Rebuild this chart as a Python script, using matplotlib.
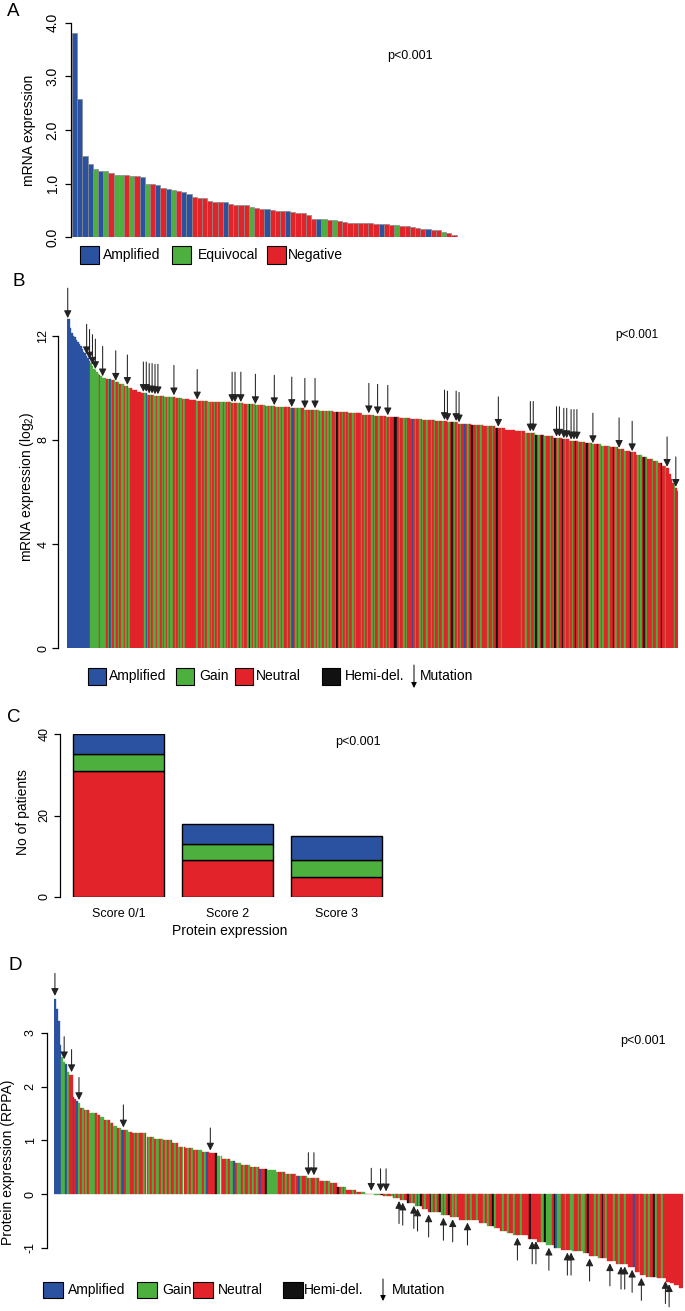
import matplotlib
matplotlib.use("Agg")
import matplotlib.pyplot as plt
from matplotlib.patches import Rectangle, FancyArrowPatch
import numpy as np

plt.rcParams['font.family'] = ['Liberation Sans', 'DejaVu Sans']
plt.rcParams['mathtext.fontset'] = 'custom'
plt.rcParams['mathtext.rm'] = 'Liberation Sans'

W, H = 685, 1311

COLORS = {'A': '#2a52a1', 'E': '#4caf3e', 'G': '#4caf3e', 'N': '#e3232a', 'H': '#111111'}

# ---- panel A : mRNA expression, ISH class
a_values = [3.80, 2.57, 1.52, 1.36, 1.28, 1.24, 1.24, 1.20, 1.17, 1.17,
            1.16, 1.15, 1.14, 1.13, 1.00, 1.00, 0.98, 0.92, 0.90, 0.88,
            0.86, 0.85, 0.80, 0.76, 0.74, 0.73, 0.67, 0.65, 0.65, 0.65,
            0.62, 0.61, 0.61, 0.61, 0.57, 0.55, 0.53, 0.53, 0.51, 0.49,
            0.49, 0.49, 0.47, 0.45, 0.45, 0.42, 0.35, 0.35, 0.34, 0.33,
            0.33, 0.30, 0.29, 0.27, 0.26, 0.26, 0.26, 0.26, 0.25, 0.24,
            0.24, 0.23, 0.22, 0.21, 0.21, 0.19, 0.17, 0.16, 0.16, 0.14,
            0.13, 0.09, 0.08, 0.05, 0.012, 0.004]
a_class = "".join("""AAAAEAENEE NENAENANAE NAANNNNNNA NNNNENNANN NANNNNNAEN
                     ENNNNNNNNA NNENNNNNAN NENNNN""".split())

# ---- panel B : mRNA log2, copy number (run-length levels)
b_levels = [12.64, 12.30, 12.10, 12.00, 11.95, 11.85, 11.78, 11.70, 11.60, 11.50,
            11.40, 11.35, 11.25, 11.15, 11.05, 10.95, 10.85, 10.75, 10.68, 10.60,
            10.55, 10.50, 10.45, 10.40, 10.34, 10.29, 10.23, 10.15, 10.07, 10.00,
            9.93, 9.86, 9.80, 9.74, 9.71, 9.67, 9.63, 9.59, 9.55, 9.51,
            9.48, 9.45, 9.41, 9.37, 9.33, 9.29, 9.26, 9.22, 9.17, 9.12,
            9.06, 9.02, 8.98, 8.94, 8.90, 8.86, 8.82, 8.78, 8.72, 8.68,
            8.63, 8.58, 8.52, 8.46, 8.40, 8.34, 8.28, 8.21, 8.14, 8.08,
            8.02, 7.97, 7.93, 7.88, 7.83, 7.78, 7.72, 7.65, 7.58, 7.52,
            7.44, 7.36, 7.28, 7.20, 7.10, 7.00, 6.92, 6.70, 6.50, 6.35,
            6.15, 6.05]
b_runs = [2, 1, 1, 1, 1, 1, 1, 1, 1, 1,
          1, 1, 1, 1, 1, 1, 1, 1, 1, 1,
          1, 1, 1, 3, 3, 3, 3, 3, 3, 3,
          3, 3, 4, 5, 7, 7, 5, 5, 5, 8,
          8, 8, 8, 8, 7, 7, 10, 10, 10, 10,
          10, 10, 8, 8, 9, 8, 8, 9, 8, 8,
          9, 8, 8, 7, 7, 7, 7, 6, 6, 6,
          5, 6, 5, 5, 6, 6, 6, 4, 4, 4,
          4, 4, 4, 3, 3, 3, 2, 1, 1, 2,
          1, 1]
b_class = "".join("""AAAAAAAAAA AAAAAAGGGG GGNGGGGNGA GNGGNGNGGN GNGNNNNNNN
                     NNNGAGNGNG GNGGNGNGNG NGGNGNGNGN GNNNNNNNNG NNGNGNGGNG
                     NGNGNGGNGN GNGNGNNGNG NGNNGHGNGN GNGNNGNGNG NGNNGNGNGN
                     NGNGNANGNG GNNGNGNGNN GNGNGNNGNG NGNNGHNGNG NGNGNNGNGN
                     NNGNGNGNNG NGNNGNNGNG NGNNNHHNGN NGNGNNNANG NNGNGNNGNN
                     GNGNNGNNGN NNGNHNGNGN GNNANGNNHN NGNNGNNNNG NNGNNHNNGN
                     NNNNNNNNNN NNGNNGNNGN NGHNGNHNGN NNGNGHNGNN HNGNNGNGNH
                     NGNNGNNHNG NGNNHNGNGN NNGNNHNGNN GNNGNNNHNG NNGNGNHNGN
                     NNGNNGNNHN NGNNNNNGNN""".split())
b_mutations = [0, 13, 15, 17, 19, 24, 33, 41, 52, 54, 56, 58, 60, 62, 73, 89,
               113, 115, 119, 129, 142, 154, 163, 170, 207, 213, 220, 259, 261,
               267, 269, 296, 318, 320, 336, 338, 341, 343, 346, 348, 350, 361,
               379, 388, 412, 418]

# ---- panel C : IHC score vs copy number
c_labels = ['Score 0/1', 'Score 2', 'Score 3']
c_neutral = [31, 9, 5]
c_gain = [4, 4, 4]
c_amplified = [5, 5, 6]

# ---- panel D : RPPA protein, copy number (run-length levels)
d_levels = [3.64, 3.44, 3.23, 2.77, 2.55, 2.46, 2.43, 2.28, 2.22, 1.81,
            1.77, 1.74, 1.70, 1.60, 1.56, 1.51, 1.47, 1.43, 1.38, 1.33,
            1.27, 1.23, 1.19, 1.15, 1.13, 1.07, 1.03, 1.00, 0.95, 0.88,
            0.85, 0.82, 0.78, 0.76, 0.70, 0.66, 0.62, 0.58, 0.54, 0.51,
            0.47, 0.44, 0.41, 0.37, 0.34, 0.30, 0.25, 0.20, 0.13, 0.08,
            0.04, 0.01, -0.02, -0.04, -0.08, -0.11, -0.17, -0.22, -0.27, -0.33,
            -0.39, -0.42, -0.48, -0.53, -0.60, -0.64, -0.69, -0.72, -0.76, -0.83,
            -0.89, -0.95, -1.00, -1.04, -1.06, -1.10, -1.15, -1.20, -1.24, -1.30,
            -1.36, -1.45, -1.51, -1.54, -1.57, -1.63, -1.66, -1.70, -1.75]
d_runs = [1, 1, 1, 1, 1, 1, 1, 1, 2, 1,
          1, 1, 1, 2, 3, 4, 2, 2, 3, 2,
          2, 2, 4, 2, 8, 4, 5, 5, 3, 4,
          4, 5, 4, 4, 3, 4, 3, 3, 5, 5,
          4, 5, 5, 6, 6, 6, 6, 4, 5, 5,
          5, 5, 5, 5, 4, 4, 4, 4, 3, 7,
          5, 5, 11, 4, 4, 3, 4, 3, 8, 5,
          5, 4, 4, 6, 6, 3, 5, 5, 5, 6,
          4, 3, 3, 6, 5, 2, 2, 3, 2]
d_class = "".join("""AAAAGGAGNN ANAGNGNGNG GGNGNGGNGN GNGGNGNANG GNNGNGNNGN
                     NGNGNGGNGN GNGNNGNGNG NNGNGNGNGG NGANNNNHGG GNNGNGGANG
                     GNGNNGNGNG NANNHGGGGG GNNGNGNGNN GNAGNNGNGN NGNGNNGNGN
                     GNNHNGNGNN NGNGNNGGHN GNGGGGNHNG NNGNGNGNGN NHNGNGAGHN
                     GNNHGNGNHG NGNHNGNGNN NNGNNGNNGN NNGNGNNHGN NNGNNGNNGN
                     NNGNNNNHNN NNNGGHGGGN HAGGNNGNNG GNNGNGGNHN NNGNGNHNGN
                     NNGNNGNNGN NNNANNGNNG NGNNHGNNGN NNNNNNNNNN""".split())
d_mut_down = [0, 5, 9, 13, 37, 84, 137, 140, 171, 176, 179]
d_mut_up = [186, 188, 194, 196, 202, 210, 215, 223, 250, 258, 260, 267, 277,
            279, 289, 300, 306, 308, 312, 317, 330, 332]


def fx(px):
    return px / W


def fy(py):
    return 1 - py / H


def rect(l, t, r, b):
    return [fx(l), fy(b), (r - l) / W, (b - t) / H]


def style_y(ax, ticks, labels, lo, hi, outward, pad, fs):
    for s in ['top', 'right', 'bottom']:
        ax.spines[s].set_visible(False)
    ax.spines['left'].set_bounds(lo, hi)
    ax.spines['left'].set_position(('outward', outward * 0.72))
    ax.spines['left'].set_linewidth(0.9)
    ax.set_yticks(ticks)
    ax.set_yticklabels(labels)
    ax.tick_params(axis='y', length=4.3, width=0.9, pad=pad, labelsize=fs, labelrotation=90)
    for t in ax.get_yticklabels():
        t.set_va('center')
    ax.patch.set_visible(False)


def arrows(ax, idx, values, length, gap, up=False):
    for i in idx:
        v = values[i]
        if up:
            tip = min(v, 0) - gap
            tail = tip - length
        else:
            tip = max(v, 0) + gap
            tail = tip + length
        ax.annotate('', xy=(i + 0.5, tip), xytext=(i + 0.5, tail),
                    arrowprops=dict(arrowstyle='-|>', color='#222222', lw=0.75,
                                    shrinkA=0, shrinkB=0, mutation_scale=11),
                    annotation_clip=False)


def legend_row(y, boxes, texts, bw, bh, fs, arrow=None):
    for (x, key), (tx, label) in zip(boxes, texts):
        fig.add_artist(Rectangle((fx(x), fy(y + bh / 2)), bw / W, bh / H,
                                 transform=fig.transFigure, facecolor=COLORS[key],
                                 edgecolor='black', linewidth=0.8))
        fig.text(fx(tx), fy(y), label, fontsize=fs, ha='left', va='center')
    if arrow is not None:
        ax_x, y0, y1, tx = arrow
        fig.add_artist(FancyArrowPatch((fx(ax_x), fy(y0)), (fx(ax_x), fy(y1)),
                                       transform=fig.transFigure, arrowstyle='-|>',
                                       mutation_scale=8, color='black', lw=0.7,
                                       shrinkA=0, shrinkB=0))
        fig.text(fx(tx), fy(y), 'Mutation', fontsize=fs, ha='left', va='center')


b_values = np.repeat(b_levels, b_runs)
d_values = np.repeat(d_levels, d_runs)
assert len(a_class) == len(a_values)
assert len(b_class) == len(b_values), (len(b_class), len(b_values))
assert len(d_class) == len(d_values), (len(d_class), len(d_values))

fig = plt.figure(figsize=(W / 100, H / 100), dpi=100)

# ---------------- A
axa = fig.add_axes(rect(72, 22.7, 467, 237.3))
xa = np.arange(len(a_values))
axa.bar(xa, a_values, width=1.0, align='edge', color=[COLORS[c] for c in a_class],
        edgecolor='#8a8a8a', linewidth=0.5)
axa.set_xlim(0, len(a_values))
axa.set_ylim(0, 4.0)
axa.set_xticks([])
style_y(axa, [0, 1, 2, 3, 4], ['0.0', '1.0', '2.0', '3.0', '4.0'], 0, 4, 1, 3.9, 10)
axa.set_ylabel('mRNA expression', fontsize=10)
axa.yaxis.set_label_coords(fx(36.5), fy(130), transform=fig.transFigure)
legend_row(255, [(80, 'A'), (172, 'E'), (267, 'N')],
           [(103, 'Amplified'), (198, 'Equivocal'), (288, 'Negative')], 19, 18, 10)

# ---------------- B
axb = fig.add_axes(rect(67, 284, 678, 648))
xb = np.arange(len(b_values))
b_cols = [COLORS[c] for c in b_class]
axb.bar(xb, b_values, width=1.0, align='edge', color=b_cols, edgecolor=b_cols, linewidth=0.25)
axb.set_xlim(0, len(b_values))
axb.set_ylim(0, 14)
axb.set_xticks([])
style_y(axb, [0, 4, 8, 12], ['0', '4', '8', '12'], 0, 12, 9, 1.8, 9)
arrows(axb, b_mutations, b_values, 1.15, 0.05)
axb.set_ylabel('mRNA expression (log$_2$)', fontsize=10)
axb.yaxis.set_label_coords(fx(35.5), fy(487), transform=fig.transFigure)
legend_row(676, [(88, 'A'), (176, 'G'), (235, 'N'), (322, 'H')],
           [(109, 'Amplified'), (199, 'Gain'), (256, 'Neutral'), (345, 'Hemi-del.')],
           18, 17, 10, arrow=(414, 665, 688, 420))

# ---------------- C
axc = fig.add_axes(rect(60, 734, 420, 897))
xc = np.arange(len(c_labels)) * 1.2 + 0.7
bottom_g = np.array(c_neutral)
bottom_a = bottom_g + np.array(c_gain)
axc.bar(xc, c_neutral, width=1.0, color=COLORS['N'], edgecolor='black', linewidth=1.0)
axc.bar(xc, c_gain, width=1.0, bottom=bottom_g, color=COLORS['G'], edgecolor='black', linewidth=1.0)
axc.bar(xc, c_amplified, width=1.0, bottom=bottom_a, color=COLORS['A'], edgecolor='black', linewidth=1.0)
axc.set_xlim((60 - 54.8) / 91, (420 - 54.8) / 91)
axc.set_ylim(0, 40)
style_y(axc, [0, 20, 40], ['0', '20', '40'], 0, 40, 0, 2.5, 9)
axc.set_xticks(xc)
axc.set_xticklabels(c_labels, fontsize=9)
axc.tick_params(axis='x', length=0, pad=8)
axc.set_xlabel('Protein expression', fontsize=10)
axc.xaxis.set_label_coords(fx(230), fy(924), transform=fig.transFigure)
axc.set_ylabel('No of patients', fontsize=10)
axc.yaxis.set_label_coords(fx(30.5), fy(812), transform=fig.transFigure)

# ---------------- D
axd = fig.add_axes(rect(54, 984.6, 683, 1309.5))
xd = np.arange(len(d_values))
d_cols = [COLORS[c] for c in d_class]
axd.bar(xd, d_values, width=1.0, align='edge', color=d_cols, edgecolor=d_cols, linewidth=0.25)
axd.set_xlim(0, len(d_values))
axd.set_ylim(-2.15, 3.9)
axd.set_xticks([])
style_y(axd, [-1, 0, 1, 2, 3], ['-1', '0', '1', '2', '3'], -1, 3, 7, 3.2, 9)
arrows(axd, d_mut_down, d_values, 0.42, 0.05)
arrows(axd, d_mut_up, d_values, 0.42, 0.05, up=True)
axd.set_ylabel('Protein expression (RPPA)', fontsize=10)
axd.yaxis.set_label_coords(fx(15), fy(1162), transform=fig.transFigure)
legend_row(1290, [(43, 'A'), (137, 'G'), (193, 'N'), (283, 'H')],
           [(68, 'Amplified'), (162, 'Gain'), (218, 'Neutral'), (304, 'Hemi-del.')],
           20, 16, 10, arrow=(383, 1279, 1301, 392))

# panel letters and p-values
for letter, (x, y) in zip('ABCD', [(7, 12), (12, 281), (7, 717), (8, 966)]):
    fig.text(fx(x), fy(y), letter, fontsize=13.5, ha='left', va='center')
for (x, y, fs) in [(410, 56, 9), (637, 335, 8.5), (358, 742, 9), (643, 1041, 9)]:
    fig.text(fx(x), fy(y), 'p<0.001', fontsize=fs, ha='center', va='center')

fig.savefig('out.png', dpi=100)
